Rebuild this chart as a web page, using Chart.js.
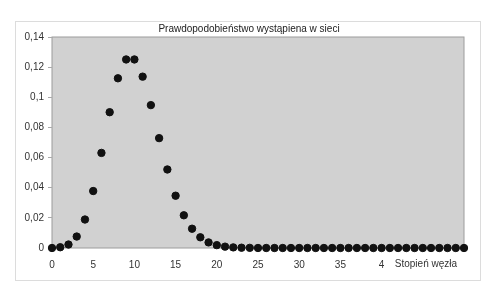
<!DOCTYPE html>
<html>
<head>
<meta charset="utf-8">
<script src="https://cdn.jsdelivr.net/npm/chart.js@4/dist/chart.umd.min.js"></script>
<style>
    html, body { margin: 0; padding: 0; background: #fff; }
    #wrap { width: 495px; height: 283px; }
</style>
</head>
<body>
<div id="wrap"><canvas id="degreeChart"></canvas></div>
<script>
// Data
const degrees = [0, 1, 2, 3, 4, 5, 6, 7, 8, 9, 10, 11, 12, 13, 14, 15, 16, 17, 18, 19, 20,
    21, 22, 23, 24, 25, 26, 27, 28, 29, 30, 31, 32, 33, 34, 35, 36, 37, 38, 39, 40,
    41, 42, 43, 44, 45, 46, 47, 48, 49, 50];
const probability = [0.0000, 0.0005, 0.0023, 0.0076, 0.0189, 0.0378, 0.0631, 0.0901, 0.1126, 0.1251, 0.1251,
    0.1137, 0.0948, 0.0729, 0.0521, 0.0347, 0.0217, 0.0128, 0.0071, 0.0037, 0.0019,
    0.0009, 0.0004, 0.0002, 0.0001, 0, 0, 0, 0, 0, 0,
    0, 0, 0, 0, 0, 0, 0, 0, 0, 0,
    0, 0, 0, 0, 0, 0, 0, 0, 0, 0];
const xTickLabels = { 0: "0", 5: "5", 10: "10", 15: "15", 20: "20", 25: "25", 30: "30", 35: "35", 40: "4" };
const xAxisTitle = "Stopień węzła";
const yTicks = [0, 0.02, 0.04, 0.06, 0.08, 0.1, 0.12, 0.14];
const chartTitle = "Prawdopodobieństwo wystąpiena w sieci";

// Grey plot area, light outer frame, title and axis name
const backdrop = {
    id: "backdrop",
    beforeDraw(chart) {
        const ctx = chart.ctx;
        const a = chart.chartArea;
        ctx.save();
        ctx.strokeStyle = "#dcdcdc";
        ctx.lineWidth = 1;
        ctx.strokeRect(15.5, 21.5, 465, 259);
        ctx.fillStyle = "#d1d1d1";
        ctx.fillRect(a.left, a.top, a.right - a.left, a.bottom - a.top);
        ctx.strokeStyle = "#9c9c9c";
        ctx.strokeRect(a.left, a.top, a.right - a.left, a.bottom - a.top);
        ctx.restore();
    },
    afterDraw(chart) {
        const ctx = chart.ctx;
        const x = chart.scales.x;
        ctx.save();
        ctx.font = "10px 'Liberation Sans'";
        ctx.textBaseline = "middle";
        ctx.fillStyle = "#222";
        ctx.textAlign = "center";
        ctx.fillText(chartTitle, 249, 29);
        ctx.fillStyle = "#333";
        ctx.textAlign = "left";
        ctx.fillText(xAxisTitle, x.getPixelForValue(41.6), chart.chartArea.bottom + 16);
        ctx.restore();
    }
};

const points = degrees.map((d, i) => ({ x: d, y: probability[i] }));

new Chart(document.getElementById("degreeChart"), {
    type: "scatter",
    data: {
        datasets: [{
            data: points,
            backgroundColor: "#111",
            borderColor: "#111",
            pointRadius: 3.7,
            pointHoverRadius: 3.7,
            clip: false
        }]
    },
    options: {
        responsive: true,
        maintainAspectRatio: false,
        animation: false,
        layout: { padding: { top: 37, right: 31, left: 0, bottom: 0 } },
        plugins: {
            legend: { display: false },
            tooltip: { enabled: false },
            title: { display: false }
        },
        scales: {
            x: {
                type: "linear",
                min: 0,
                max: 50,
                afterFit: s => { s.height = 35; },
                afterBuildTicks: s => { s.ticks = Object.keys(xTickLabels).map(v => ({ value: Number(v) })); },
                grid: { drawOnChartArea: false, color: "rgba(0,0,0,0)", tickLength: 8 },
                border: { display: false },
                ticks: {
                    color: "#333",
                    font: { family: "Liberation Sans", size: 10 },
                    maxRotation: 0,
                    autoSkip: false,
                    padding: 3,
                    callback: v => xTickLabels[v] ?? ""
                }
            },
            y: {
                min: 0,
                max: 0.14,
                afterFit: s => { s.width = 52; },
                afterBuildTicks: s => { s.ticks = yTicks.map(v => ({ value: v })); },
                grid: { drawOnChartArea: false, color: "#aaa", tickLength: 4 },
                border: { display: false },
                ticks: {
                    color: "#333",
                    font: { family: "Liberation Sans", size: 10 },
                    padding: 4,
                    callback: v => String(Number(v.toFixed(2))).replace(".", ",")
                }
            }
        }
    },
    plugins: [backdrop]
});
</script>
</body>
</html>
